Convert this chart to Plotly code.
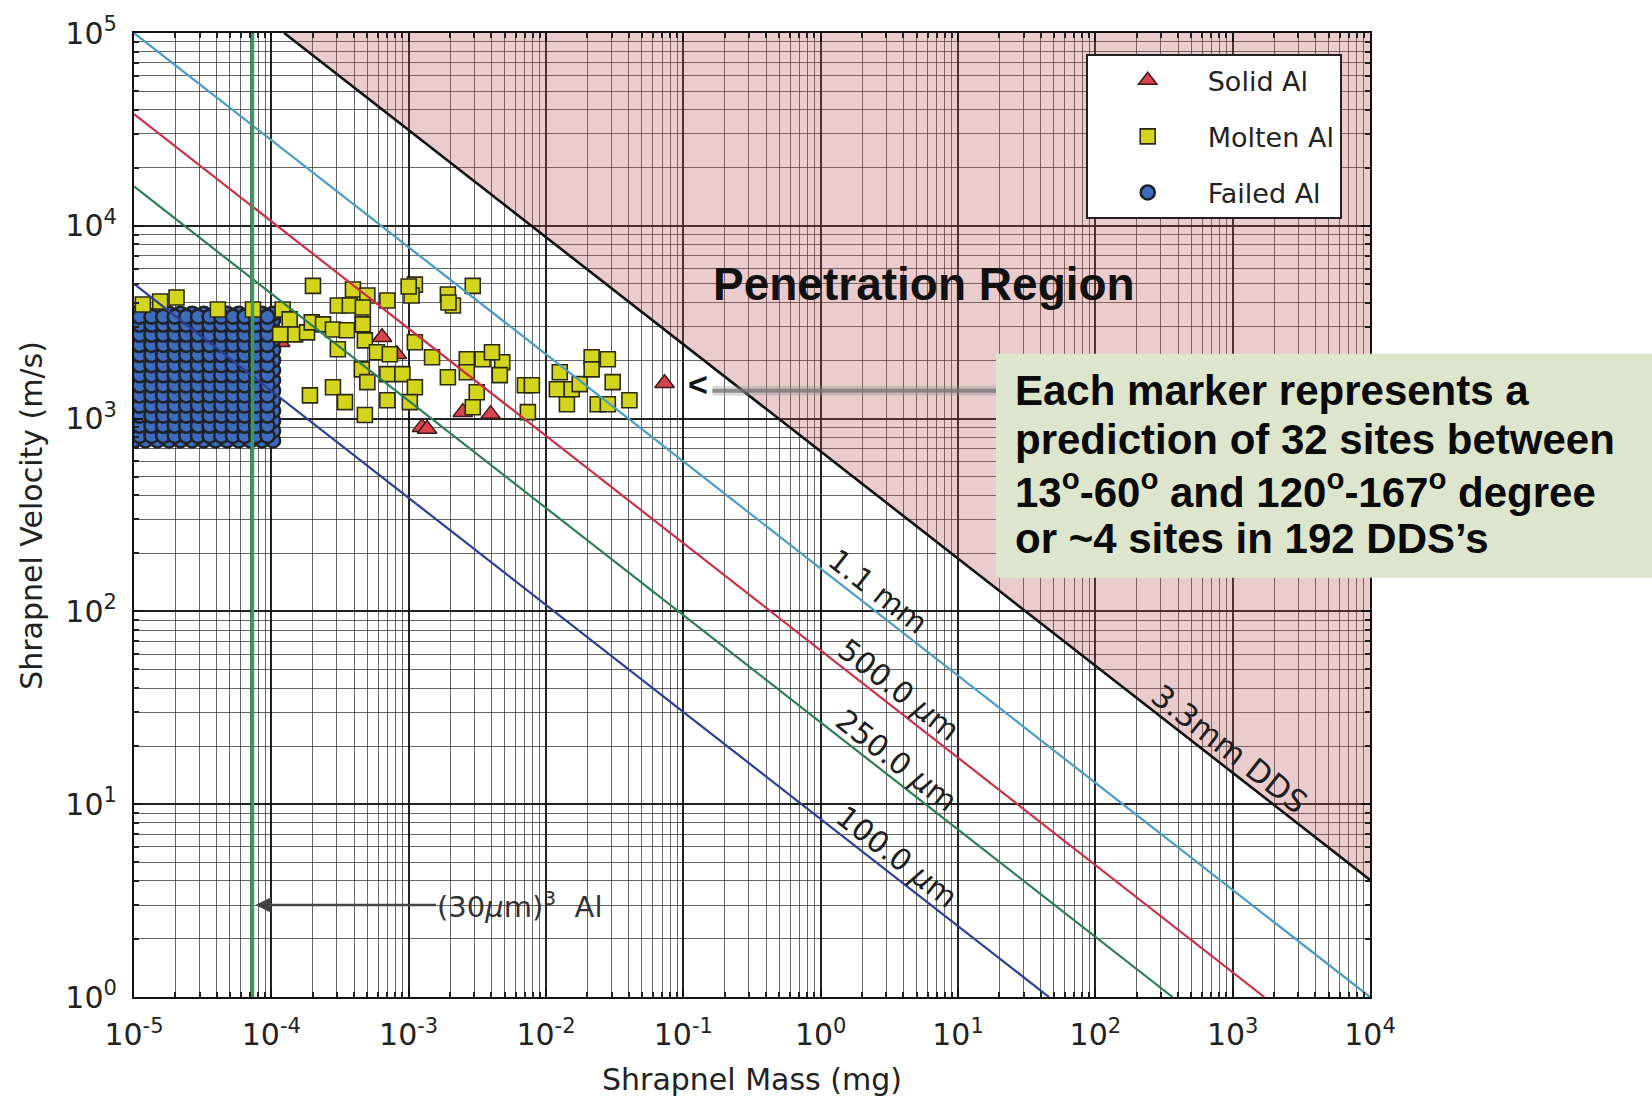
import math
import plotly.graph_objects as go

# ---------------- data ----------------
X_RANGE = [1e-5, 1e4]          # shrapnel mass, mg
Y_RANGE = [1.0, 1e5]           # shrapnel velocity, m/s

# Solid Al fragments
SOLID_MASS = [6.4e-4, 8.2e-4, 2.48e-3, 3.95e-3, 1.25e-3, 1.36e-3, 1.16e-4, 7.3e-2]
SOLID_VEL = [2640, 2155, 1080, 1055, 903, 883, 2490, 1525]

# Molten Al fragments
MOLTEN_MASS = [
    1.16e-5, 1.55e-5, 2.04e-5, 4.08e-5, 7.35e-5, 1.21e-4, 1.36e-4, 2.01e-4, 1.49e-4, 1.16e-4,
    1.82e-4, 1.97e-4, 2.38e-4, 2.81e-4, 3.55e-4, 3.05e-4, 3.73e-4, 3.93e-4, 5.0e-4, 4.64e-4,
    4.64e-4, 4.80e-4, 7.0e-4, 3.05e-4, 1.11e-3, 1.05e-3, 1.93e-3, 2.10e-3, 2.93e-3, 5.87e-4,
    7.29e-4, 4.56e-4, 5.0e-4, 7.0e-4, 9.0e-4, 1.11e-3, 1.02e-3, 7.0e-4, 1.11e-3, 1.48e-3,
    1.93e-3, 2.65e-3, 3.45e-3, 4.8e-3, 4.61e-3, 3.13e-3, 2.93e-3, 1.91e-4, 2.81e-4, 3.44e-4,
    4.80e-4, 4.04e-3, 2.65e-3, 7.02e-3, 7.89e-3, 7.38e-3, 1.20e-2, 1.26e-2, 1.42e-2, 1.54e-2,
    1.76e-2, 2.15e-2, 2.15e-2, 2.82e-2, 3.06e-2, 2.38e-2, 2.82e-2, 4.05e-2, 1.0e-3, 1.95e-3,
]
MOLTEN_VEL = [
    3910, 4050, 4250, 3680, 3680, 3680, 3270, 4880, 2735, 2735,
    2800, 3155, 3080, 2900, 2870, 3860, 3860, 4670, 4350, 3770,
    3080, 2545, 4100, 2290, 4955, 4350, 4400, 3860, 4880, 2210,
    2155, 1800, 1545, 1700, 1700, 1455, 1217, 1245, 2490, 2080,
    1640, 2030, 2030, 1960, 1680, 1370, 1146, 1320, 1455, 1217,
    1043, 2210, 1740, 1490, 1490, 1080, 1420, 1740, 1188, 1420,
    1510, 2080, 1800, 2030, 1545, 1188, 1188, 1245, 4840, 4000,
]

# Failed Al fragments: dense block made of two staggered mass/velocity sets
FAILED_MASS_COLS = [1.00e-5, 1.21e-5, 1.48e-5, 1.80e-5, 2.18e-5, 2.65e-5, 3.22e-5,
                    3.92e-5, 4.76e-5, 5.79e-5, 7.03e-5, 8.55e-5, 1.03e-4]
FAILED_VEL_ROWS = [770, 865, 975, 1100, 1240, 1400, 1580, 1780, 2010, 2270,
                   2560, 2890, 3250, 3500]
FAILED_MASS_COLS_B = [1.10e-5, 1.34e-5, 1.63e-5, 1.98e-5, 2.40e-5, 2.92e-5,
                      3.55e-5, 4.32e-5, 5.25e-5, 6.38e-5, 7.75e-5, 9.38e-5]
FAILED_VEL_ROWS_B = [813, 918, 1036, 1168, 1318, 1487, 1677, 1892, 2136, 2411,
                     2720, 3065, 3378]

# Crater-depth lines (end points: mass mg, velocity m/s)
CRATER_LABELS = ["1.1 mm", "500.0 <i>\u03bc</i>m", "250.0 <i>\u03bc</i>m", "100.0 <i>\u03bc</i>m"]
CRATER_COLORS = ["#4b9cc4", "#c9304a", "#2f7d55", "#2c3f92"]
CRATER_MASS = [[1e-5, 1.0e4], [1e-5, 1.7e3], [1e-5, 3.65e2], [1e-5, 4.6e1]]
CRATER_VEL = [[1.0e5, 1.0], [3.8e4, 1.0], [1.6e4, 1.0], [5.0e3, 1.0]]
CRATER_LABEL_MASS = [2.2, 3.1, 3.0, 3.0]

# 3.3 mm DDS ballistic limit (penetration boundary)
DDS_LABEL = "3.3mm DDS"
DDS_MASS = [1.24e-4, 1.0e4]
DDS_VEL = [1.0e5, 4.05]
DDS_LABEL_MASS = 800.0

# Mass of a (30 um)^3 aluminium cube
AL_CUBE_MASS = 7.29e-5
AL_CUBE_LABEL_VEL = 3.0

DEJAVU = "DejaVu Sans"
ARIAL = "Liberation Sans, Arial, sans-serif"


def on_line(m, xs, ys):
    """log10 velocity on a power-law line at mass m."""
    lx0, lx1 = math.log10(xs[0]), math.log10(xs[1])
    ly0, ly1 = math.log10(ys[0]), math.log10(ys[1])
    t = (math.log10(m) - lx0) / (lx1 - lx0)
    return ly0 + t * (ly1 - ly0)


fig = go.Figure()

# Penetration region (above the DDS limit)
fig.add_trace(go.Scatter(
    x=[DDS_MASS[0], DDS_MASS[1], X_RANGE[1], DDS_MASS[0]],
    y=[DDS_VEL[0], DDS_VEL[1], Y_RANGE[1], DDS_VEL[0]],
    mode="lines", fill="toself", fillcolor="rgba(185,85,85,0.30)",
    line=dict(width=0), hoverinfo="skip", showlegend=False,
))

# Scatter markers
fig.add_trace(go.Scatter(
    x=SOLID_MASS, y=SOLID_VEL, mode="markers", name="Solid Al",
    legendrank=1, legendgroup="solid",
    marker=dict(symbol="triangle-up", size=17, color="#d8434c",
                line=dict(color="#3a1a1a", width=1.5)),
))
fail_m = ([m for m in FAILED_MASS_COLS for _ in FAILED_VEL_ROWS]
          + [m for m in FAILED_MASS_COLS_B for _ in FAILED_VEL_ROWS_B])
fail_v = ([v for _ in FAILED_MASS_COLS for v in FAILED_VEL_ROWS]
          + [v for _ in FAILED_MASS_COLS_B for v in FAILED_VEL_ROWS_B])
fig.add_trace(go.Scatter(
    x=fail_m, y=fail_v, mode="markers", name="Failed Al",
    legendrank=3, legendgroup="failed",
    marker=dict(symbol="circle", size=14, color="#3d6cbd",
                line=dict(color="#1f2229", width=2.6)),
))
fig.add_trace(go.Scatter(
    x=MOLTEN_MASS, y=MOLTEN_VEL, mode="markers", name="Molten Al",
    legendrank=2, legendgroup="molten",
    marker=dict(symbol="square", size=15, color="#d3d41c",
                line=dict(color="#2a2a10", width=1.6)),
))

# Crater lines
for xs, ys, col in zip(CRATER_MASS, CRATER_VEL, CRATER_COLORS):
    fig.add_trace(go.Scatter(x=xs, y=ys, mode="lines", line=dict(color=col, width=2.2),
                             hoverinfo="skip", showlegend=False))
fig.add_trace(go.Scatter(x=DDS_MASS, y=DDS_VEL, mode="lines",
                         line=dict(color="#111111", width=2.6),
                         hoverinfo="skip", showlegend=False))
# (30 um)^3 Al mass marker line
fig.add_trace(go.Scatter(x=[AL_CUBE_MASS, AL_CUBE_MASS], y=Y_RANGE, mode="lines",
                         line=dict(color="#3a9a5c", width=3.5),
                         hoverinfo="skip", showlegend=False))

annotations = []
ANG = 38.0
d = 17.0
xs_off = d * math.sin(math.radians(ANG))
ys_off = d * math.cos(math.radians(ANG))
for lab, xs, ys, lm in zip(CRATER_LABELS, CRATER_MASS, CRATER_VEL, CRATER_LABEL_MASS):
    annotations.append(dict(
        x=math.log10(lm), y=on_line(lm, xs, ys), xref="x", yref="y",
        text=lab, showarrow=False, textangle=ANG, xshift=xs_off, yshift=ys_off,
        font=dict(family=DEJAVU, size=30, color="#1e1e1e"),
    ))
annotations.append(dict(
    x=math.log10(DDS_LABEL_MASS), y=on_line(DDS_LABEL_MASS, DDS_MASS, DDS_VEL),
    xref="x", yref="y", text=DDS_LABEL, showarrow=False, textangle=ANG,
    xshift=xs_off, yshift=ys_off, font=dict(family=DEJAVU, size=31, color="#1e1e1e"),
))

# (30um)^3 Al arrow
annotations.append(dict(
    x=math.log10(AL_CUBE_MASS), y=math.log10(AL_CUBE_LABEL_VEL), xref="x", yref="y",
    text="(30<i>\u03bc</i>m)<sup>3</sup> \u00a0Al", showarrow=True, ax=268, ay=0,
    arrowhead=2, arrowsize=1.2, arrowwidth=2.6, arrowcolor="#444444", standoff=3,
    font=dict(family=DEJAVU, size=29, color="#333333"),
))

# Penetration region caption
annotations.append(dict(
    x=0.6395, y=0.7397, xref="paper", yref="paper", text="<b>Penetration Region</b>",
    xanchor="center", yanchor="middle",
    showarrow=False, font=dict(family=ARIAL, size=46, color="#111111"),
))

# Pointer to the isolated solid fragment
annotations.append(dict(
    x=0.4565, y=0.6364, xref="paper", yref="paper", text="<b>&lt;</b>",
    xanchor="center", yanchor="middle",
    showarrow=False, font=dict(family=ARIAL, size=34, color="#111111"),
))

# Note box text
NOTE_LINES = [
    "<b>Each marker represents a</b>",
    "<b>prediction of 32 sites between</b>",
    "<b>13<sup>o</sup>-60<sup>o</sup> and 120<sup>o</sup>-167<sup>o</sup> degree</b>",
    "<b>or ~4 sites in 192 DDS\u2019s</b>",
]
NOTE_Y = [0.6291, 0.5785, 0.5270, 0.4752]
for txt, yy in zip(NOTE_LINES, NOTE_Y):
    annotations.append(dict(
        x=0.7112, y=yy, xref="paper", yref="paper", text=txt, xanchor="left",
        yanchor="middle", showarrow=False, font=dict(family=ARIAL, size=42, color="#0a0a0a"),
    ))

# Axis titles
annotations.append(dict(
    x=0.5, y=-0.0857, xref="paper", yref="paper", text="Shrapnel Mass (mg)",
    xanchor="center", yanchor="middle",
    showarrow=False, font=dict(family=DEJAVU, size=30, color="#222222"),
))
annotations.append(dict(
    x=-0.0835, y=0.5, xref="paper", yref="paper", text="Shrapnel Velocity (m/s)",
    xanchor="center", yanchor="middle",
    showarrow=False, textangle=-90, font=dict(family=DEJAVU, size=30, color="#222222"),
))

shapes = [
    # pointer shaft
    dict(type="line", xref="paper", yref="paper", x0=0.468, x1=0.6974, y0=0.629, y1=0.629,
         line=dict(color="rgba(150,150,150,0.35)", width=10), layer="above"),
    dict(type="line", xref="paper", yref="paper", x0=0.468, x1=0.6974, y0=0.629, y1=0.629,
         line=dict(color="rgba(115,115,115,0.75)", width=4), layer="above"),
    # note box
    dict(type="rect", xref="paper", yref="paper", x0=0.6974, x1=1.23, y0=0.4349, y1=0.6674,
         fillcolor="#dde5cc", line=dict(width=0), layer="above"),
]

x_major = [10.0 ** e for e in range(-5, 5)]
x_text = [f"10<sup>{e}</sup>" for e in range(-5, 5)]
x_minor = [k * 10.0 ** e for e in range(-5, 4) for k in range(2, 10)]
y_major = [10.0 ** e for e in range(0, 6)]
y_text = [f"10<sup>{e}</sup>" for e in range(0, 6)]
y_minor = [k * 10.0 ** e for e in range(0, 5) for k in range(2, 10)]

axis_common = dict(
    type="log", tickmode="array", showgrid=True,
    gridcolor="rgba(10,10,10,0.9)", gridwidth=1.5,
    ticks="inside", ticklen=9, tickwidth=1.5, tickcolor="#111111",
    showline=True, linecolor="#111111", linewidth=2.2, mirror="allticks",
    zeroline=False, tickfont=dict(family=DEJAVU, size=30, color="#222222"),
)
minor_common = dict(tickmode="array", showgrid=True, gridcolor="rgba(30,30,30,0.68)",
                    gridwidth=1.1, ticks="inside", ticklen=5, tickcolor="#222222")

fig.update_layout(
    width=1652, height=1102,
    margin=dict(l=134, r=282, t=29, b=105),
    paper_bgcolor="white", plot_bgcolor="white",
    xaxis=dict(range=[-5, 4], tickvals=x_major, ticktext=x_text, ticklabelstandoff=10,
               minor=dict(tickvals=x_minor, **minor_common), **axis_common),
    yaxis=dict(range=[0, 5], tickvals=y_major, ticktext=y_text, ticklabelstandoff=9,
               minor=dict(tickvals=y_minor, **minor_common), **axis_common),
    legend=dict(x=0.770, y=0.978, xanchor="left", yanchor="top", bgcolor="white",
                bordercolor="#222222", borderwidth=2,
                font=dict(family=DEJAVU, size=27, color="#222222"),
                itemwidth=110, tracegroupgap=18, traceorder="grouped"),
    annotations=annotations,
    shapes=shapes,
)

fig.write_html("out.html")
